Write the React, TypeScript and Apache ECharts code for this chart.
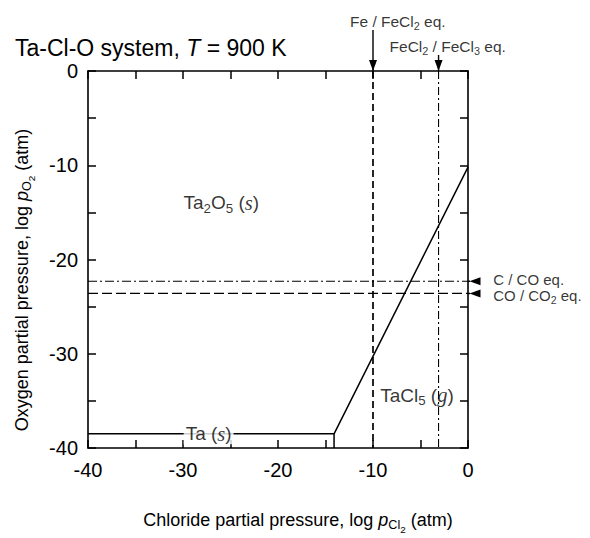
import React, { useEffect, useRef } from "react";
import * as echarts from "echarts";

// ---------- data ----------
const xRange = [-40, 0];
const yRange = [-40, 0];
// Ta(s) / Ta2O5(s) boundary
const taSolidX = [-40, -14.1];
const taSolidY = [-38.5, -38.5];
// Ta(s)-Ta2O5(s) / TaCl5(g) boundaries
const boundaryX = [-14.1, -14.1, 0];
const boundaryY = [-40, -38.5, -10.2];
// equilibrium reference lines
const feFeCl2X = -10;
const feCl2FeCl3X = -3.1;
const cCoY = -22.3;
const coCo2Y = -23.6;
// arrow extents outside the plot (data units)
const feArrowTop = 4.35;
const feCl3ArrowTop = 1.7;
const rightArrowStart = 2.5;

const FONT = '"Liberation Sans", Arial, Helvetica, sans-serif';
const SERIF = '"Liberation Serif", "Times New Roman", serif';

function rich(F: number) {
  return {
    i: { fontFamily: FONT, fontStyle: "italic", fontSize: F, color: "#000" },
    it: { fontFamily: SERIF, fontStyle: "italic", fontSize: F * 1.08, color: "#000" },
    sub: {
      fontFamily: FONT,
      fontSize: F * 0.7,
      lineHeight: F * 0.84,
      padding: [F * 0.58, 0, 0, 0],
      color: "#000",
    },
    subsub: {
      fontFamily: FONT,
      fontSize: F * 0.55,
      lineHeight: F * 0.66,
      padding: [F * 1.0, 0, 0, 0],
      color: "#000",
    },
  };
}

function xAxisDef(position: "top" | "bottom", labels: boolean) {
  return {
    type: "value",
    position,
    min: xRange[0],
    max: xRange[1],
    interval: 5,
    axisLine: { show: true, onZero: false, lineStyle: { color: "#000", width: 1.6 } },
    axisTick: { show: true, inside: true, length: 8, lineStyle: { color: "#000", width: 1.5 } },
    axisLabel: {
      show: labels,
      margin: 12,
      fontSize: 20,
      fontFamily: FONT,
      color: "#000",
      formatter: (v: number) => (Math.round(v) % 10 === 0 ? String(v) : ""),
    },
    splitLine: { show: false },
  };
}

function yAxisDef(position: "left" | "right", labels: boolean) {
  return {
    type: "value",
    position,
    min: yRange[0],
    max: yRange[1],
    interval: 5,
    axisLine: { show: true, onZero: false, lineStyle: { color: "#000", width: 1.6 } },
    axisTick: { show: true, inside: true, length: 8, lineStyle: { color: "#000", width: 1.5 } },
    axisLabel: {
      show: labels,
      margin: 10,
      fontSize: 20,
      fontFamily: FONT,
      color: "#000",
      formatter: (v: number) => (Math.round(v) % 10 === 0 ? String(v) : ""),
    },
    splitLine: { show: false },
  };
}

function zip(xs: number[], ys: number[]) {
  return xs.map((x, i) => [x, ys[i]]);
}

const lineBase = {
  type: "line",
  symbol: "none",
  clip: false,
  silent: true,
};

function arrowSeries(from: number[], to: number[], rotate: number, offset: number[]) {
  return {
    type: "line",
    clip: false,
    silent: true,
    symbol: "triangle",
    showSymbol: true,
    z: 3,
    lineStyle: { color: "#000", width: 1.4 },
    itemStyle: { color: "#000" },
    data: [
      { value: from, symbol: "none" },
      { value: to, symbol: "triangle", symbolSize: [8, 11], symbolRotate: rotate, symbolOffset: offset },
    ],
  };
}

export default function App() {
  const ref = useRef<HTMLDivElement>(null);

  useEffect(() => {
    if (!ref.current) return;
    const chart = echarts.init(ref.current, null, { renderer: "svg" });

    const annotationLabel = (F: number) => ({
      show: true,
      fontFamily: FONT,
      fontSize: F,
      color: "#000",
      rich: rich(F),
    });

    const option = {
      animation: false,
      backgroundColor: "#fff",
      title: {
        text: "Ta-Cl-O system, {i|T} = 900 K",
        left: 10,
        top: 31,
        textStyle: {
          fontFamily: FONT,
          fontSize: 23,
          fontWeight: "normal",
          color: "#000",
          rich: rich(23),
        },
      },
      grid: { left: 88, right: 122, top: 71, bottom: 90 },
      xAxis: [xAxisDef("bottom", true), xAxisDef("top", false)],
      yAxis: [yAxisDef("left", true), yAxisDef("right", false)],
      series: [
        {
          ...lineBase,
          lineStyle: { color: "#000", width: 1.5 },
          data: zip(taSolidX, taSolidY),
        },
        {
          ...lineBase,
          lineStyle: { color: "#000", width: 1.5 },
          data: zip(boundaryX, boundaryY),
        },
        {
          ...lineBase,
          lineStyle: { color: "#000", width: 1.7, type: [7, 4] },
          data: [
            [feFeCl2X, yRange[1]],
            [feFeCl2X, yRange[0]],
          ],
        },
        {
          ...lineBase,
          lineStyle: { color: "#000", width: 1.1, type: [8, 3, 2, 3] },
          data: [
            [feCl2FeCl3X, yRange[1]],
            [feCl2FeCl3X, yRange[0]],
          ],
        },
        {
          ...lineBase,
          lineStyle: { color: "#000", width: 1.1, type: [9, 3, 2, 3] },
          data: [
            [xRange[0], cCoY],
            [xRange[1], cCoY],
          ],
        },
        {
          ...lineBase,
          lineStyle: { color: "#000", width: 1.3, type: [10, 4] },
          data: [
            [xRange[0], coCo2Y],
            [xRange[1], coCo2Y],
          ],
        },
        arrowSeries([feFeCl2X, feArrowTop], [feFeCl2X, 0], 180, [0, -5.5]),
        arrowSeries([feCl2FeCl3X, feCl3ArrowTop], [feCl2FeCl3X, 0], 180, [0, -5.5]),
        arrowSeries([rightArrowStart, cCoY], [0, cCoY], 90, [7, 0]),
        arrowSeries([rightArrowStart, coCo2Y], [0, coCo2Y], 90, [7, 0]),
        // text annotations
        {
          type: "scatter",
          clip: false,
          silent: true,
          symbolSize: 1,
          itemStyle: { color: "rgba(0,0,0,0)" },
          z: 10,
          data: [
            {
              value: [feFeCl2X, feArrowTop],
              label: {
                ...annotationLabel(15.5),
                position: "top",
                align: "left",
                distance: 0,
                offset: [-23, 0],
                formatter: "Fe / FeCl{sub|2} eq.",
              },
            },
            {
              value: [feCl2FeCl3X, feCl3ArrowTop],
              label: {
                ...annotationLabel(15.5),
                position: "top",
                align: "left",
                distance: 0,
                offset: [-49, 0],
                formatter: "FeCl{sub|2} / FeCl{sub|3} eq.",
              },
            },
            {
              value: [rightArrowStart, cCoY],
              label: {
                ...annotationLabel(15),
                position: "right",
                distance: 1,
                offset: [0, -2],
                formatter: "C / CO eq.",
              },
            },
            {
              value: [rightArrowStart, coCo2Y],
              label: {
                ...annotationLabel(15),
                position: "right",
                distance: 1,
                offset: [0, 2],
                formatter: "CO / CO{sub|2} eq.",
              },
            },
            {
              value: [-30, -14],
              label: {
                ...annotationLabel(19),
                position: "right",
                distance: 0,
                formatter: "Ta{sub|2}O{sub|5} ({it|s})",
              },
            },
            {
              value: [-9.3, -34.4],
              label: {
                ...annotationLabel(19),
                position: "right",
                distance: 0,
                formatter: "TaCl{sub|5} ({it|g})",
              },
            },
            {
              value: [-27.3, taSolidY[0]],
              label: {
                ...annotationLabel(19),
                position: "inside",
                backgroundColor: "#fff",
                padding: [0, 2, 0, 2],
                formatter: "Ta ({it|s})",
              },
            },
          ],
        },
      ],
      graphic: [
        {
          type: "text",
          x: 298,
          y: 520,
          silent: true,
          style: {
            text: "Chloride partial pressure, log {i|p}{sub|Cl}{subsub|2} (atm)",
            fontFamily: FONT,
            fontSize: 18,
            fill: "#000",
            align: "center",
            verticalAlign: "middle",
            rich: rich(18),
          },
        },
        {
          type: "text",
          x: 22,
          y: 280,
          rotation: Math.PI / 2,
          silent: true,
          style: {
            text: "Oxygen partial pressure, log {i|p}{sub|O}{subsub|2} (atm)",
            fontFamily: FONT,
            fontSize: 18,
            fill: "#000",
            align: "center",
            verticalAlign: "middle",
            rich: rich(18),
          },
        },
      ],
    };

    chart.setOption(option as any);
    return () => chart.dispose();
  }, []);

  return (
    <div
      ref={ref}
      style={{ position: "fixed", left: 0, top: 0, width: 590, height: 538, background: "#fff" }}
    />
  );
}
